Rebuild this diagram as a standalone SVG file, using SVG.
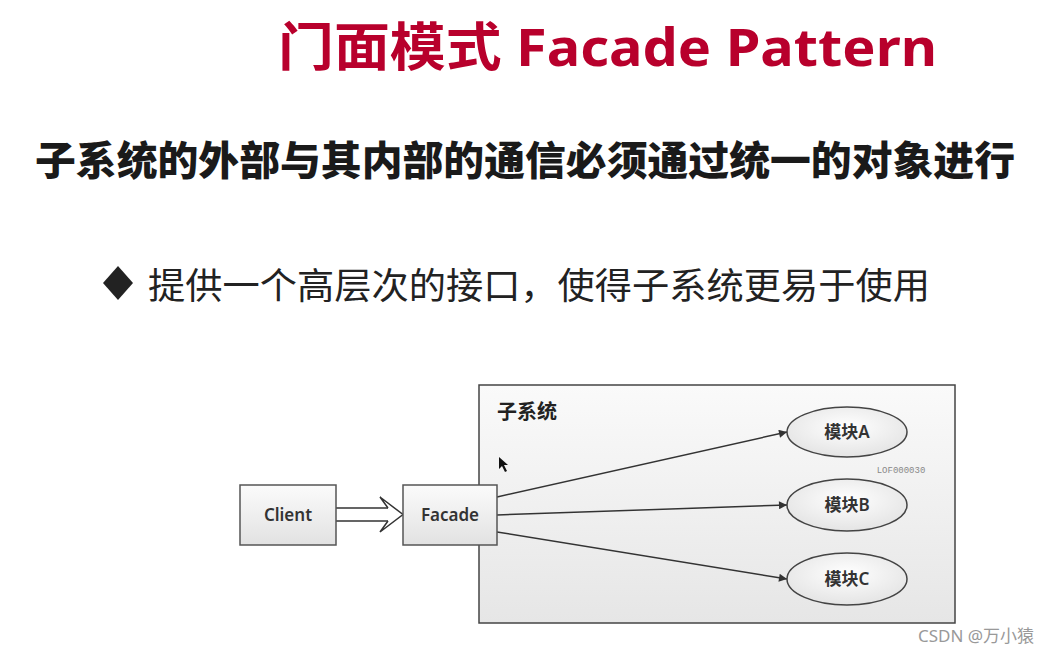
<svg xmlns="http://www.w3.org/2000/svg" width="1063" height="653" viewBox="0 0 1063 653">
<defs>
<linearGradient id="boxg" x1="0" y1="0" x2="0" y2="1">
<stop offset="0" stop-color="#fbfbfb"/>
<stop offset="1" stop-color="#e2e2e2"/>
</linearGradient>
<linearGradient id="subg" x1="0" y1="0" x2="0" y2="1">
<stop offset="0" stop-color="#fafafa"/>
<stop offset="1" stop-color="#e6e6e6"/>
</linearGradient>
<radialGradient id="ellg" cx="0.5" cy="0.4" r="0.6">
<stop offset="0" stop-color="#ffffff"/>
<stop offset="1" stop-color="#e4e4e4"/>
</radialGradient>
<marker id="arr" viewBox="0 0 10 10" refX="10" refY="5" markerWidth="10" markerHeight="8" markerUnits="userSpaceOnUse" orient="auto">
<path d="M0,0 L10,5 L0,10 Z" fill="#333"/>
</marker>
</defs>
<style>
.cjk{font-family:"Noto Sans CJK SC","Noto Sans",sans-serif;}
.lbl{font-family:"Noto Sans","Noto Sans CJK SC",sans-serif;font-size:17px;font-weight:600;fill:#333;text-anchor:middle;}
.box{fill:url(#boxg);stroke:#555;stroke-width:1.5;}
.ell{fill:url(#ellg);stroke:#444;stroke-width:1.5;}
.con{fill:none;stroke:#333;stroke-width:1.5;}
</style>
<rect width="1063" height="653" fill="#ffffff"/>
<g id="title">
<text x="278" y="66" font-family="Noto Sans, Noto Sans CJK SC, sans-serif" font-size="52" font-weight="bold" fill="#b8002c" textLength="659" lengthAdjust="spacingAndGlyphs">门面模式 Facade Pattern</text>
</g>
<g id="subtitle">
<text x="35" y="175" class="cjk" font-size="40" font-weight="900" fill="#1a1a1a" textLength="980" lengthAdjust="spacingAndGlyphs">子系统的外部与其内部的通信必须通过统一的对象进行</text>
</g>
<g id="bullet">
<path d="M118,266 L133,283 L118,300 L103,283 Z" fill="#222"/>
<text x="148" y="299" class="cjk" font-size="36" fill="#222" textLength="782" lengthAdjust="spacingAndGlyphs">提供一个高层次的接口，使得子系统更易于使用</text>
</g>
<g id="subsystem">
<rect x="479" y="385" width="476" height="238" fill="url(#subg)" stroke="#444" stroke-width="1.5"/>
<text x="497" y="419" class="cjk" font-size="20" font-weight="bold" fill="#222">子系统</text>
<text x="901" y="473" font-family="Liberation Mono, monospace" font-size="9" fill="#888" text-anchor="middle">LOF000030</text>
<path d="M499,457 L499,469 L502,466 L505,472 L507,471 L504,465 L508,465 Z" fill="#111"/>
</g>
<g id="connectors">
<path d="M336,508 L388,508 M336,521 L388,521" class="con"/>
<path d="M388,508 L380,497 L403,514.5 L380,532 L388,521" fill="none" stroke="#333" stroke-width="1.5" stroke-linejoin="miter"/>
<line x1="497" y1="497" x2="787" y2="432" class="con" marker-end="url(#arr)"/>
<line x1="497" y1="515" x2="787" y2="505" class="con" marker-end="url(#arr)"/>
<line x1="497" y1="532" x2="787" y2="579" class="con" marker-end="url(#arr)"/>
</g>
<g id="client">
<rect x="240" y="485" width="96" height="60" class="box"/>
<text x="288" y="521" class="lbl">Client</text>
</g>
<g id="facade">
<rect x="403" y="485" width="94" height="60" class="box"/>
<text x="450" y="521" class="lbl">Facade</text>
</g>
<g id="moduleA">
<ellipse cx="847" cy="432" rx="60" ry="25" class="ell"/>
<text x="847" y="438" class="lbl" font-size="16">模块A</text>
</g>
<g id="moduleB">
<ellipse cx="847" cy="505" rx="60" ry="26" class="ell"/>
<text x="847" y="511" class="lbl" font-size="16">模块B</text>
</g>
<g id="moduleC">
<ellipse cx="847" cy="579" rx="60" ry="26" class="ell"/>
<text x="847" y="585" class="lbl" font-size="16">模块C</text>
</g>
<g id="watermark">
<text x="918" y="642" font-family="Noto Sans, Noto Sans CJK SC, sans-serif" font-size="17" fill="#999">CSDN @万小猿</text>
</g>
</svg>
